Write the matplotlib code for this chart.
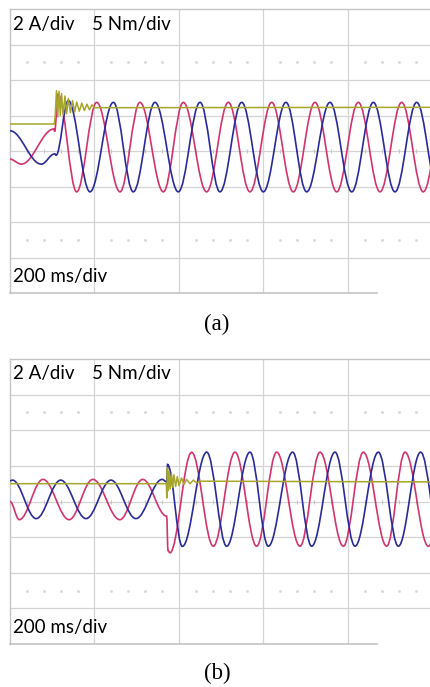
import matplotlib
matplotlib.use("Agg")
import matplotlib.pyplot as plt
from matplotlib.path import Path
from matplotlib.patches import PathPatch

# ---------------- data (time in divisions, amplitude in divisions) ----------------
# Panel (a): current extrema knots (t, value)
a_red_t = [0.00, 0.134, 0.520, 0.529, 0.568, 0.789, 1.026, 1.302, 1.538, 1.815, 2.051,
           2.327, 2.584, 2.840, 3.097, 3.353, 3.609, 3.866, 4.122, 4.379, 4.635, 4.891, 5.148]
a_red_v = [-0.23, -0.37, 0.62, 0.55, 1.60, -1.15, 1.37, -1.15, 1.37, -1.15, 1.37,
           -1.15, 1.37, -1.15, 1.37, -1.15, 1.37, -1.15, 1.37, -1.15, 1.37, -1.15, 1.37]
a_blue_t = [0.00, 0.370, 0.529, 0.545, 0.690, 0.947, 1.223, 1.459, 1.716, 1.992, 2.249,
            2.485, 2.742, 2.998, 3.266, 3.511, 3.787, 4.044, 4.300, 4.556, 4.813, 5.070]
a_blue_v = [0.57, -0.37, -0.08, -0.12, 1.42, -1.15, 1.37, -1.15, 1.37, -1.15, 1.37,
            -1.15, 1.37, -1.15, 1.37, -1.15, 1.37, -1.15, 1.37, -1.15, 1.37, -1.15]
a_torq_t = [0.00, 0.525, 0.535, 0.550, 0.565, 0.580, 0.595, 0.610, 0.630, 0.650, 0.670,
            0.690, 0.715, 0.740, 0.765, 0.790, 0.820, 0.850, 0.880, 0.910, 0.940, 0.970,
            1.000, 5.000]
a_torq_v = [0.76, 0.76, 1.00, 1.70, 0.96, 1.68, 1.00, 1.62, 1.02, 1.55, 1.05,
            1.48, 1.08, 1.42, 1.10, 1.38, 1.12, 1.35, 1.14, 1.32, 1.16, 1.30,
            1.22, 1.23]

# Panel (b)
b_red_t = [0.00, 0.110, 0.390, 0.700, 0.980, 1.300, 1.570, 1.854, 1.870, 1.893, 2.150,
           2.406, 2.663, 2.919, 3.156, 3.432, 3.669, 3.945, 4.182, 4.458, 4.675, 4.951, 5.200]
b_red_v = [0.00, -0.51, 0.62, -0.51, 0.62, -0.51, 0.62, -0.41, -1.38, -1.44, 1.38,
           -1.255, 1.385, -1.255, 1.385, -1.255, 1.385, -1.255, 1.385, -1.255, 1.385, -1.255, 1.385]
b_blue_t = [0.00, 0.030, 0.310, 0.600, 0.900, 1.195, 1.490, 1.800, 1.856, 1.864, 2.040,
            2.328, 2.564, 2.840, 3.057, 3.345, 3.570, 3.846, 4.083, 4.359, 4.596, 4.860, 5.100]
b_blue_v = [0.58, 0.60, -0.48, 0.60, -0.48, 0.60, -0.48, 0.62, 0.55, 1.04, -1.26,
            1.385, -1.255, 1.385, -1.255, 1.385, -1.255, 1.385, -1.255, 1.385, -1.255, 1.385, -1.255]
b_torq_t = [0.00, 1.850, 1.856, 1.862, 1.872, 1.882, 1.895, 1.910, 1.925, 1.940, 1.960,
            1.980, 2.000, 2.030, 2.060, 2.090, 2.130, 2.170, 2.210, 2.250, 5.000]
b_torq_v = [0.50, 0.50, 0.10, 0.95, 0.30, 0.85, 0.35, 0.80, 0.40, 0.75, 0.42,
            0.70, 0.45, 0.66, 0.48, 0.62, 0.50, 0.60, 0.52, 0.57, 0.55]

scale_text = ["2 A/div", "5 Nm/div"]
time_text = "200 ms/div"
captions = ["(a)", "(b)"]

# ---------------- styling ----------------
RED = "#d2346e"
BLUE = "#2a2a9c"
YEL = "#a6a62a"
GRID = "#d4d4d4"
W, H = 431, 687
DIV_X = 84.5  # px per horizontal division
X_MAX = (W - 10) / DIV_X
FS = 13.5


def smooth_path(ts, vs, c=0.365):
    verts = [(ts[0], vs[0])]
    codes = [Path.MOVETO]
    for i in range(1, len(ts)):
        t0, v0, t1, v1 = ts[i - 1], vs[i - 1], ts[i], vs[i]
        dt = t1 - t0
        verts += [(t0 + c * dt, v0), (t1 - c * dt, v1), (t1, v1)]
        codes += [Path.CURVE4] * 3
    return Path(verts, codes)


fig = plt.figure(figsize=(W / 100, H / 100), dpi=100)


def panel(top_px, bot_px, red, blue, torq, cap, cap_y):
    ax = fig.add_axes([10 / W, 1 - bot_px / H, (W - 10) / W, (bot_px - top_px) / H])
    ax.set_xlim(0, X_MAX)
    ax.set_ylim(-4, 4)
    ax.set_xticks([1, 2, 3, 4])
    ax.set_yticks([-3, -2, -1, 0, 1, 2, 3])
    ax.tick_params(length=0, labelbottom=False, labelleft=False)
    ax.grid(True, color=GRID, lw=0.9)
    ax.set_axisbelow(True)
    for s in ["right", "bottom"]:
        ax.spines[s].set_visible(False)
    for s in ["top", "left"]:
        ax.spines[s].set_color("#c4c4c4")
        ax.spines[s].set_linewidth(1.0)
    ax.plot([0, 4.34], [-4, -4], color="#c4c4c4", lw=1.2, clip_on=False, zorder=1)
    # dotted sub-division rows and centre ticks
    dx = [k * 0.2 for k in range(26) if k % 5 != 0]
    for yy in (2.5, -2.5):
        ax.plot(dx, [yy] * len(dx), ls="none", marker="s", ms=0.9, color="#d6d6d6", zorder=1)
    ax.plot(dx, [0] * len(dx), ls="none", marker="|", ms=3, mew=0.8, color="#c4c4c4", zorder=1)

    ax.add_patch(PathPatch(smooth_path(*red), fill=False, ec=RED, lw=1.2, zorder=3))
    ax.add_patch(PathPatch(smooth_path(*blue), fill=False, ec=BLUE, lw=1.2, zorder=3))
    ax.plot(torq[0], torq[1], color=YEL, lw=1.1, zorder=4)

    ax.annotate(scale_text[0], xy=(0, 1), xycoords="axes fraction",
                xytext=(3, -20.5), textcoords="offset pixels",
                fontsize=FS, family="Lato", va="baseline", ha="left")
    ax.annotate(scale_text[1], xy=(0, 1), xycoords="axes fraction",
                xytext=(82, -20.5), textcoords="offset pixels",
                fontsize=FS, family="Lato", va="baseline", ha="left")
    ax.annotate(time_text, xy=(0, 0), xycoords="axes fraction",
                xytext=(3, 11.5), textcoords="offset pixels",
                fontsize=FS, family="Lato", va="baseline", ha="left")
    fig.text(217 / W, 1 - cap_y / H, cap, family="Liberation Serif", fontsize=16.5,
             ha="center", va="center")
    return ax


panel(9, 293, (a_red_t, a_red_v), (a_blue_t, a_blue_v), (a_torq_t, a_torq_v), captions[0], 324)
panel(359, 644, (b_red_t, b_red_v), (b_blue_t, b_blue_v), (b_torq_t, b_torq_v), captions[1], 673)

fig.savefig("out.png", dpi=100, facecolor="white")
